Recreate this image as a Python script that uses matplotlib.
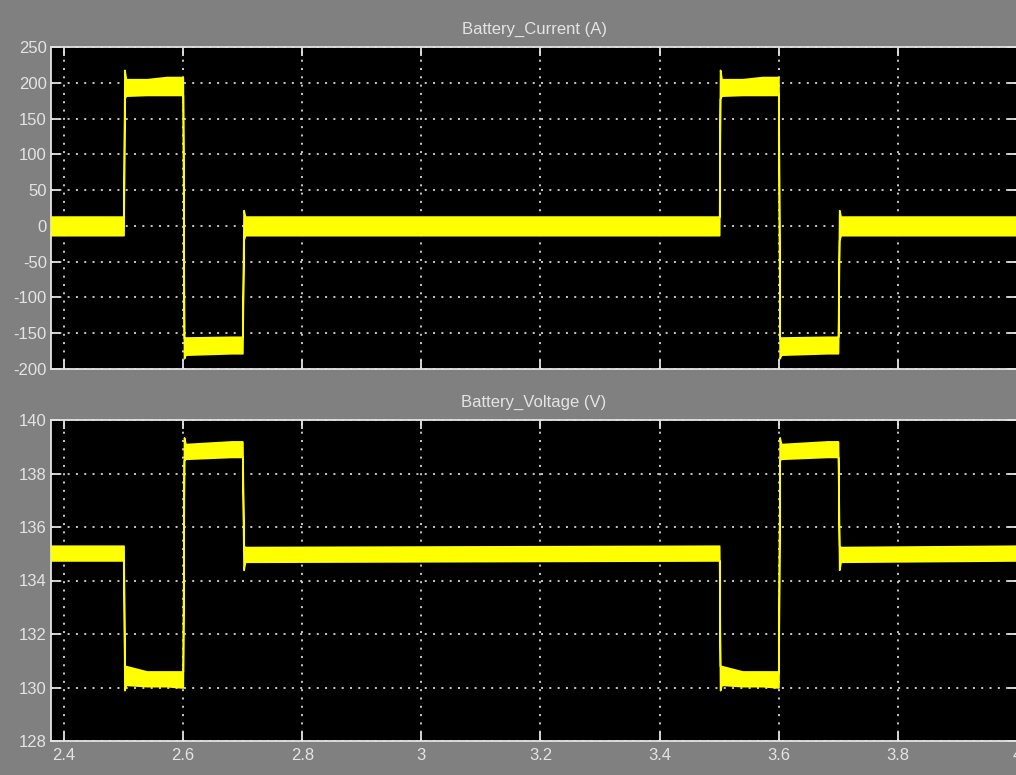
import matplotlib.pyplot as plt
import numpy as np

# Simulink scope : courant et tension batterie
# enveloppe (haut / bas) de la bande d'ondulation

plt.rcParams['axes.unicode_minus'] = False

pulse_starts = [2.5, 3.5]
t_first = 2.3782
t_last = 4.0

# instants relatifs au debut de chaque impulsion
pulse_dt = [0.0, 0.0015, 0.004, 0.039, 0.0725, 0.0995,
            0.1015, 0.104, 0.1815, 0.1995, 0.2015, 0.204]

cur_base = (13, -13)
cur_upper = [13, 218, 205, 205, 208, 208, -157, -156, -155, -155, 22, 13]
cur_lower = [-13, 178, 182, 183, 183, 183, -185, -180, -178, -178, -20, -13]

volt_base = (135.3, 134.75)
volt_upper = [135.3, 130.8, 130.8, 130.6, 130.6, 130.6, 139.35, 139.1, 139.2, 139.2, 135.3, 135.25]
volt_lower = [134.75, 129.9, 130.1, 130.05, 130.05, 130.0, 138.5, 138.55, 138.62, 138.62, 134.4, 134.7]

cur_ticks = [-200, -150, -100, -50, 0, 50, 100, 150, 200, 250]
volt_ticks = [128, 130, 132, 134, 136, 138, 140]
x_ticks = [2.4, 2.6, 2.8, 3.0, 3.2, 3.4, 3.6, 3.8, 4.0]
x_labels = ['2.4', '2.6', '2.8', '3', '3.2', '3.4', '3.6', '3.8', '4']


def envelope(base, upper, lower):
    t = [t_first]
    up = [base[0]]
    lo = [base[1]]
    for t0 in pulse_starts:
        for dt, u, l in zip(pulse_dt, upper, lower):
            t.append(t0 + dt)
            up.append(u)
            lo.append(l)
    t.append(t_last)
    up.append(base[0])
    lo.append(base[1])
    return np.array(t), np.array(up), np.array(lo)


GREY = '#808080'
FG = '#e4e4e4'
YEL = '#ffff00'
FONT = 'Liberation Sans'

fig = plt.figure(figsize=(10.16, 7.75), dpi=100)
fig.patch.set_facecolor(GREY)

ax1 = fig.add_axes([51/1016, 1-369/775, 966/1016, 322/775])
ax2 = fig.add_axes([51/1016, 1-741/775, 966/1016, 321/775])


def style(ax, yticks, ylim, title, title_y):
    ax.set_facecolor('black')
    ax.set_xlim(t_first, t_last)
    ax.set_ylim(*ylim)
    ax.set_yticks(yticks)
    ax.set_xticks(x_ticks)
    ax.grid(True, color='#d8d8d8', linestyle=(0, (1.1, 3.5)), linewidth=1.3)
    for s in ax.spines.values():
        s.set_color(FG)
        s.set_linewidth(1.3)
    ax.tick_params(direction='in', length=6.5, width=1.3, color=FG,
                   top=True, right=True, labelcolor=FG, labelsize=12)
    ax.tick_params(axis='y', pad=3)
    ax.tick_params(axis='x', pad=5)
    for lab in ax.get_yticklabels() + ax.get_xticklabels():
        lab.set_family(FONT)
    fig.text(534/1016, 1-title_y/775, title, color=FG, fontsize=12,
             family=FONT, ha='center', va='center')


t, up, lo = envelope(cur_base, cur_upper, cur_lower)
ax1.fill_between(t, lo, up, color=YEL, linewidth=1.2, edgecolor=YEL, zorder=3)
style(ax1, cur_ticks, (-200, 250), 'Battery_Current (A)', 29.5)
ax1.set_xticklabels([])

t, up, lo = envelope(volt_base, volt_upper, volt_lower)
ax2.fill_between(t, lo, up, color=YEL, linewidth=1.2, edgecolor=YEL, zorder=3)
style(ax2, volt_ticks, (128, 140), 'Battery_Voltage (V)', 402)
ax2.set_xticklabels(x_labels, family=FONT)

fig.savefig('out.png', dpi=100, facecolor=GREY)
